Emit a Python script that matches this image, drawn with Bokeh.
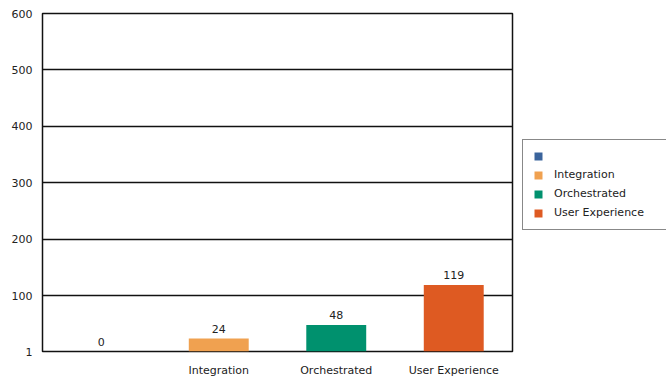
from bokeh.plotting import figure
from bokeh.layouts import row
from bokeh.models import ColumnDataSource, Range1d, FactorRange, FixedTicker, Legend, LegendItem
from bokeh.core.properties import value
from bokeh.embed import file_html
from bokeh.resources import INLINE

categories = [" ", "Integration", "Orchestrated", "User Experience"]
counts = [0, 24, 48, 119]
colors = ["#3b649c", "#f0a150", "#00916e", "#de5a22"]
legend_labels = [" ", "Integration", "Orchestrated", "User Experience"]
y_ticks = [1, 100, 200, 300, 400, 500, 600]

FONT = "DejaVu Sans"

src = ColumnDataSource(dict(cat=categories, val=counts, color=colors,
                            lab=[str(v) for v in counts]))
nz = [i for i, v in enumerate(counts) if v > 0]
bar_src = ColumnDataSource(dict(cat=[categories[i] for i in nz], val=[counts[i] for i in nz],
                                color=[colors[i] for i in nz]))
leg_src = ColumnDataSource(dict(x=[0.5] * len(categories), top=[float("nan")] * len(categories), color=colors))

p = figure(width=514, height=379, output_backend="svg", toolbar_location=None,
           x_range=FactorRange(factors=categories, range_padding=0),
           y_range=Range1d(1, 600),
           min_border_left=42, min_border_right=2, min_border_top=13, min_border_bottom=25)
p.background_fill_color = "white"
p.border_fill_color = "white"
p.outline_line_color = "#111111"
p.outline_line_width = 1.5

p.vbar(x="cat", top="val", bottom=0, width=0.51, fill_color="color", line_color=None, source=bar_src)
p.text(x="cat", y="val", text="lab", source=src, text_align="center", text_baseline="bottom",
       y_offset=-6, text_font=value(FONT), text_font_size="11px", text_color="#222222")

p.xgrid.grid_line_color = None
p.ygrid.grid_line_color = "#111111"
p.ygrid.grid_line_width = 1.5
p.yaxis.ticker = FixedTicker(ticks=y_ticks)
for ax in (p.xaxis[0], p.yaxis[0]):
    ax.axis_line_color = None
    ax.major_tick_line_color = None
    ax.minor_tick_line_color = None
    ax.major_label_text_font = FONT
    ax.major_label_text_font_size = "11px"
    ax.major_label_text_color = "#222222"
p.yaxis.major_label_standoff = 4
p.xaxis.major_label_standoff = 6

# legend panel
lf = figure(width=152, height=379, output_backend="svg", toolbar_location=None,
            x_range=Range1d(0, 1), y_range=Range1d(0, 1), x_axis_type=None, y_axis_type=None,
            min_border_left=0, min_border_right=0, min_border_top=0, min_border_bottom=0)
lf.outline_line_color = None
lf.xgrid.grid_line_color = None
lf.ygrid.grid_line_color = None
leg_r = lf.vbar(x="x", top="top", bottom=0, width=0.5, fill_color="color", line_color=None, source=leg_src)

items = [LegendItem(label=value(legend_labels[i]), renderers=[leg_r], index=i) for i in range(len(categories))]
legend = Legend(items=items, location=(8, 121), orientation="vertical",
                glyph_width=10, glyph_height=10, label_height=12, label_width=104, spacing=6,
                padding=10, margin=0, label_standoff=11,
                label_text_font=FONT, label_text_font_size="11px", label_text_color="#222222",
                border_line_color="#111111", border_line_width=1.2,
                background_fill_color="white", background_fill_alpha=1)
lf.add_layout(legend, "center")

layout = row(p, lf, spacing=0)
open("out.html", "w").write(file_html(layout, INLINE))
